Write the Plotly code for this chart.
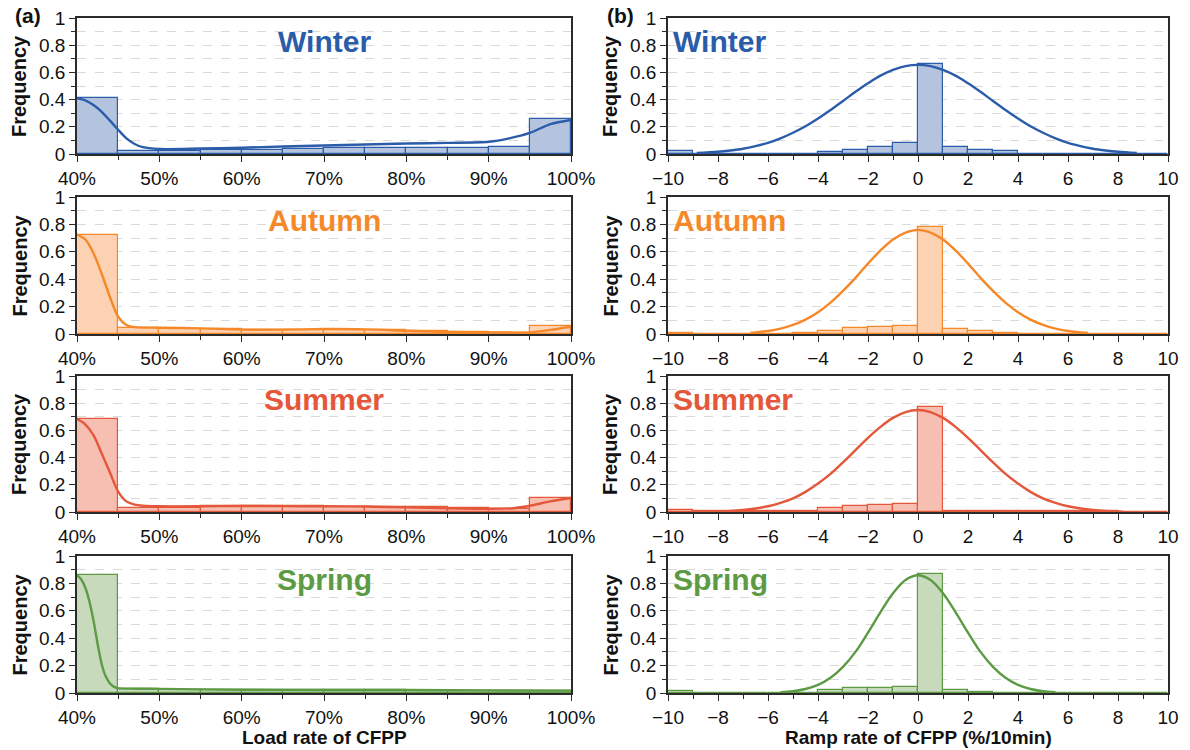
import plotly.graph_objects as go

W, H = 1190, 750

seasons = ["Winter", "Autumn", "Summer", "Spring"]
line_colors = ["#2B5CAA", "#F5892A", "#E4573A", "#5C9A44"]
fill_colors = ["#B5C4DE", "#FDD2B3", "#F7BFB2", "#C7DABC"]

# ---- (a) load rate histograms: bins 40-45, 45-50, ..., 95-100 (%) ----
load_bin_left = [40, 45, 50, 55, 60, 65, 70, 75, 80, 85, 90, 95]
load_hist = {
    "Winter": [0.41, 0.024, 0.025, 0.028, 0.031, 0.036, 0.041, 0.043, 0.046, 0.047, 0.048, 0.255],
    "Autumn": [0.726, 0.045, 0.04, 0.035, 0.03, 0.03, 0.03, 0.03, 0.02, 0.012, 0.01, 0.056],
    "Summer": [0.685, 0.03, 0.032, 0.045, 0.045, 0.042, 0.04, 0.04, 0.035, 0.03, 0.025, 0.105],
    "Spring": [0.86, 0.03, 0.025, 0.02, 0.02, 0.02, 0.02, 0.02, 0.018, 0.016, 0.015, 0.015],
}

# ---- (a) load rate density curves ----
load_kde_x = {
    "Winter": [40, 41, 42, 43, 44, 45, 46, 47, 48, 50, 55, 60, 65, 70, 75, 80, 85, 90, 92.5, 95, 97.5, 100],
    "Autumn": [40, 41, 42, 43, 44, 45, 46, 47, 50, 55, 60, 65, 70, 75, 80, 85, 90, 95, 97.5, 100],
    "Summer": [40, 41, 42, 43, 44, 45, 46, 47, 48, 50, 55, 60, 65, 70, 75, 80, 85, 90, 93, 95, 97.5, 100],
    "Spring": [40, 40.5, 41, 41.5, 42, 42.5, 43, 43.5, 44, 44.5, 45, 46, 50, 60, 70, 80, 90, 100],
}
load_kde_y = {
    "Winter": [0.41, 0.395, 0.36, 0.31, 0.245, 0.178, 0.115, 0.074, 0.05, 0.037, 0.04, 0.046, 0.055,
               0.062, 0.07, 0.077, 0.082, 0.09, 0.115, 0.155, 0.22, 0.25],
    "Autumn": [0.726, 0.69, 0.59, 0.44, 0.27, 0.126, 0.066, 0.05, 0.046, 0.041, 0.032, 0.032,
               0.036, 0.034, 0.024, 0.015, 0.012, 0.012, 0.03, 0.053],
    "Summer": [0.685, 0.645, 0.565, 0.43, 0.29, 0.15, 0.078, 0.054, 0.046, 0.042, 0.042, 0.044,
               0.043, 0.042, 0.04, 0.034, 0.027, 0.024, 0.028, 0.046, 0.078, 0.103],
    "Spring": [0.86, 0.83, 0.77, 0.67, 0.53, 0.36, 0.21, 0.12, 0.07, 0.045, 0.036, 0.032,
               0.03, 0.024, 0.022, 0.022, 0.019, 0.017],
}

# ---- (b) ramp rate histograms: bins -10..-9, ..., 9..10 ----
ramp_bin_left = [-10, -9, -8, -7, -6, -5, -4, -3, -2, -1, 0, 1, 2, 3, 4, 5, 6, 7, 8, 9]
ramp_hist = {
    "Winter": [0.022, 0, 0, 0, 0, 0.003, 0.015, 0.03, 0.048, 0.078, 0.665, 0.048, 0.031, 0.02,
               0.003, 0.002, 0.001, 0, 0, 0],
    "Autumn": [0.008, 0, 0, 0.002, 0.003, 0.004, 0.022, 0.041, 0.048, 0.058, 0.78, 0.034, 0.019,
               0.008, 0.003, 0.003, 0.003, 0.002, 0, 0],
    "Summer": [0.012, 0.005, 0.006, 0.005, 0.005, 0.01, 0.03, 0.045, 0.055, 0.058, 0.775, 0.006,
               0.004, 0.004, 0.004, 0.004, 0.004, 0.004, 0.003, 0.003],
    "Spring": [0.012, 0, 0, 0, 0, 0.003, 0.022, 0.034, 0.035, 0.045, 0.872, 0.024, 0.01, 0.003,
               0.003, 0, 0, 0, 0, 0],
}

# ---- (b) ramp rate fitted curves (read at half-unit steps) ----
ramp_kde_x = {
    "Winter": [-8.85, -8, -7.5, -7, -6.5, -6, -5.5, -5, -4.5, -4, -3.5, -3, -2.5, -2, -1.5, -1, -0.5, 0,
               0.5, 1, 1.5, 2, 2.5, 3, 3.5, 4, 4.5, 5, 5.5, 6, 6.5, 7, 7.5, 8, 8.75],
    "Autumn": [-6.7, -6.5, -6, -5.5, -5, -4.5, -4, -3.5, -3, -2.5, -2, -1.5, -1, -0.5, 0,
               0.5, 1, 1.5, 2, 2.5, 3, 3.5, 4, 4.5, 5, 5.5, 6, 6.5, 6.8],
    "Summer": [-8.1, -7.5, -7, -6.5, -6, -5.5, -5, -4.5, -4, -3.5, -3, -2.5, -2, -1.5, -1, -0.5, 0,
               0.5, 1, 1.5, 2, 2.5, 3, 3.5, 4, 4.5, 5, 5.5, 6, 6.5, 7, 7.5, 8.2],
    "Spring": [-5.5, -5, -4.5, -4, -3.5, -3, -2.5, -2, -1.5, -1, -0.5, 0,
               0.5, 1, 1.5, 2, 2.5, 3, 3.5, 4, 4.5, 5, 5.5],
}
ramp_kde_y = {
    "Winter": [0.007, 0.016, 0.026, 0.039, 0.058, 0.082, 0.115, 0.156, 0.204, 0.261, 0.324, 0.39,
               0.457, 0.52, 0.576, 0.618, 0.646, 0.655, 0.646, 0.618, 0.576, 0.52, 0.457, 0.39,
               0.324, 0.261, 0.204, 0.156, 0.115, 0.082, 0.058, 0.039, 0.026, 0.016, 0.007],
    "Autumn": [0.009, 0.012, 0.022, 0.039, 0.066, 0.105, 0.159, 0.229, 0.315, 0.41, 0.514, 0.61,
               0.69, 0.74, 0.76, 0.74, 0.69, 0.61, 0.514, 0.41, 0.315, 0.229, 0.159, 0.105, 0.066,
               0.039, 0.022, 0.012, 0.008],
    "Summer": [0.004, 0.008, 0.015, 0.026, 0.042, 0.067, 0.10, 0.148, 0.209, 0.28, 0.365, 0.455,
               0.545, 0.626, 0.692, 0.735, 0.75, 0.735, 0.692, 0.626, 0.545, 0.455, 0.365, 0.28,
               0.209, 0.148, 0.10, 0.067, 0.042, 0.026, 0.015, 0.008, 0.003],
    "Spring": [0.005, 0.013, 0.029, 0.059, 0.111, 0.191, 0.30, 0.441, 0.59, 0.728, 0.825, 0.86,
               0.825, 0.728, 0.59, 0.441, 0.30, 0.191, 0.111, 0.059, 0.029, 0.013, 0.005],
}

load_ticks = [40, 50, 60, 70, 80, 90, 100]
load_ticktext = ["40%", "50%", "60%", "70%", "80%", "90%", "100%"]
ramp_ticks = [-10, -8, -6, -4, -2, 0, 2, 4, 6, 8, 10]

# ---- layout geometry (pixels) ----
col_px = [(77, 571), (668, 1168)]
row_px = [(18, 154), (197, 334), (376, 512), (556, 693)]

FONT = "Arial, Liberation Sans, Helvetica, sans-serif"
AX = "#2b2b2b"
TICK_SIZE = 19

fig = go.Figure()
annotations = []
layout_axes = {}

for i, s in enumerate(seasons):
    for j in range(2):
        k = i * 2 + j + 1
        xa = "x" if k == 1 else f"x{k}"
        ya = "y" if k == 1 else f"y{k}"
        if j == 0:
            lefts, vals, bw = load_bin_left, load_hist[s], 5
            kx, ky = load_kde_x[s], load_kde_y[s]
            sm = 0.8
        else:
            lefts, vals, bw = ramp_bin_left, ramp_hist[s], 1
            kx, ky = ramp_kde_x[s], ramp_kde_y[s]
            sm = 1.0
        fig.add_trace(go.Bar(
            x=[l + bw / 2 for l in lefts], y=vals, width=[bw] * len(lefts),
            marker=dict(color=fill_colors[i], line=dict(color=line_colors[i], width=1.2)),
            xaxis=xa, yaxis=ya, showlegend=False, hoverinfo="skip"))
        fig.add_trace(go.Scatter(
            x=kx, y=ky, mode="lines",
            line=dict(color=line_colors[i], width=2.4, shape="spline", smoothing=sm),
            xaxis=xa, yaxis=ya, showlegend=False, hoverinfo="skip"))

        x0, x1 = col_px[j]
        y0, y1 = row_px[i]
        xdom = [x0 / W, x1 / W]
        ydom = [1 - y1 / H, 1 - y0 / H]
        xkey = "xaxis" if k == 1 else f"xaxis{k}"
        ykey = "yaxis" if k == 1 else f"yaxis{k}"
        common = dict(showline=True, linecolor=AX, linewidth=1.5, mirror=True,
                      ticks="outside", tickcolor=AX, ticklen=6, tickwidth=1.3, automargin=False,
                      tickfont=dict(family=FONT, size=TICK_SIZE, color="#111"), zeroline=False)
        if j == 0:
            xax = dict(domain=xdom, range=[40, 100], tickvals=load_ticks, ticktext=load_ticktext,
                       showgrid=False, anchor=ya, ticklabelstandoff=0,
                       minor=dict(dtick=5, tick0=40, ticks="outside", ticklen=4, tickcolor=AX,
                                  showgrid=False), **common)
        else:
            xax = dict(domain=xdom, range=[-10, 10], tickvals=ramp_ticks,
                       showgrid=False, anchor=ya, ticklabelstandoff=0,
                       minor=dict(dtick=1, tick0=0, ticks="outside", ticklen=4, tickcolor=AX,
                                  showgrid=False), **common)
        yax = dict(domain=ydom, range=[0, 1], dtick=0.2, tick0=0, anchor=xa,
                   showgrid=True, gridcolor="#d9d9d9", griddash="dash", gridwidth=1,
                   minor=dict(dtick=0.1, tick0=0, ticks="outside", ticklen=4, tickcolor=AX,
                              showgrid=True, gridcolor="#d9d9d9", griddash="dash", gridwidth=1),
                   **common)
        layout_axes[xkey] = xax
        layout_axes[ykey] = yax

        # season label
        if j == 0:
            annotations.append(dict(text=f"<b>{s}</b>", xref=f"{xa} domain", yref=f"{ya} domain",
                                    x=0.5, y=0.83, xanchor="center", yanchor="middle",
                                    showarrow=False,
                                    font=dict(family=FONT, size=30, color=line_colors[i])))
        else:
            annotations.append(dict(text=f"<b>{s}</b>", xref=f"{xa} domain", yref=f"{ya} domain",
                                    x=0.006, y=0.83, xanchor="left", yanchor="middle",
                                    showarrow=False,
                                    font=dict(family=FONT, size=30, color=line_colors[i])))
        # Frequency label
        fx = 19 if j == 0 else 610
        annotations.append(dict(text="<b>Frequency</b>", xref="paper", yref="paper",
                                x=fx / W, y=1 - (y0 + y1) / 2 / H, textangle=-90,
                                xanchor="center", yanchor="middle", showarrow=False,
                                font=dict(family=FONT, size=20, color="#111")))

annotations.append(dict(text="<b>(a)</b>", xref="paper", yref="paper", x=28 / W, y=1 - 15 / H,
                        xanchor="center", yanchor="middle", showarrow=False,
                        font=dict(family=FONT, size=21, color="#111")))
annotations.append(dict(text="<b>(b)</b>", xref="paper", yref="paper", x=620 / W, y=1 - 15 / H,
                        xanchor="center", yanchor="middle", showarrow=False,
                        font=dict(family=FONT, size=21, color="#111")))
annotations.append(dict(text="<b>Load rate of CFPP</b>", xref="paper", yref="paper",
                        x=324 / W, y=1 - 737 / H, xanchor="center", yanchor="middle",
                        showarrow=False, font=dict(family=FONT, size=19, color="#111")))
annotations.append(dict(text="<b>Ramp rate of CFPP (%/10min)</b>", xref="paper", yref="paper",
                        x=918 / W, y=1 - 737 / H, xanchor="center", yanchor="middle",
                        showarrow=False, font=dict(family=FONT, size=19, color="#111")))

fig.update_layout(width=W, height=H, margin=dict(l=0, r=0, t=0, b=0, pad=0),
                  paper_bgcolor="white", plot_bgcolor="white", bargap=0,
                  annotations=annotations, showlegend=False, **layout_axes)

fig.write_html("out.html", config={"displayModeBar": False},
               post_script="document.body.style.margin='0';document.body.style.padding='0';"
                           "document.documentElement.style.overflow='hidden';")
